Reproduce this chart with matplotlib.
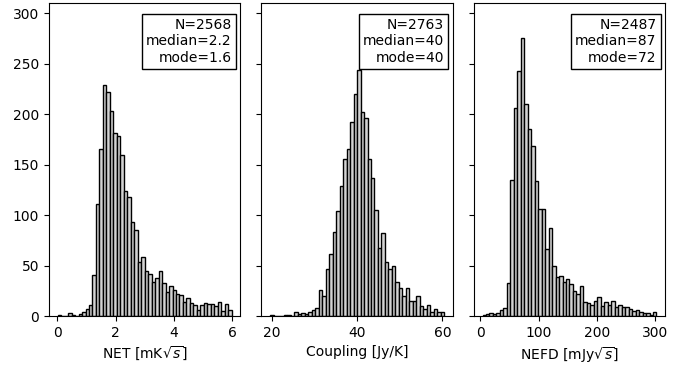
import matplotlib
matplotlib.use('Agg')
import matplotlib.pyplot as plt
import numpy as np

# bin counts (50 bins each)
net_counts = [1, 0, 0, 3, 1, 0, 2, 4, 7, 11,
              41, 111, 166, 229, 222, 203, 181, 178, 160, 124,
              118, 93, 85, 54, 59, 45, 42, 34, 38, 45,
              33, 24, 30, 26, 22, 21, 14, 18, 13, 11,
              6, 11, 13, 12, 12, 10, 14, 5, 12, 6]
net_range = (0.01, 5.98)

coupling_counts = [1, 0, 0, 0, 1, 1, 0, 4, 2, 3,
                   2, 4, 6, 8, 26, 20, 47, 62, 83, 104,
                   129, 156, 166, 192, 220, 244, 202, 196, 156, 137,
                   105, 67, 82, 54, 47, 50, 34, 28, 20, 28,
                   15, 15, 20, 10, 7, 11, 4, 7, 4, 4]
coupling_range = (19.6, 60.4)

nefd_counts = [1, 2, 3, 2, 3, 6, 8, 33, 135, 206,
               243, 276, 210, 185, 169, 134, 106, 106, 66, 87,
               50, 39, 40, 34, 37, 32, 25, 22, 30, 14,
               13, 11, 15, 19, 10, 14, 11, 15, 9, 11,
               9, 9, 7, 5, 6, 4, 3, 3, 1, 4]
nefd_range = (3.6, 302.2)

xlabels = [r'NET [mK$\sqrt{s}$]', 'Coupling [Jy/K]', r'NEFD [mJy$\sqrt{s}$]']
xticks = [[0, 2, 4, 6], [20, 40, 60], [0, 100, 200, 300]]
stats = ['N=2568\nmedian=2.2\nmode=1.6',
         'N=2763\nmedian=40\nmode=40',
         'N=2487\nmedian=87\nmode=72']

fig, axes = plt.subplots(1, 3, figsize=(6.9, 3.65), dpi=100, sharey=True)
fig.subplots_adjust(left=0.071, right=0.964, bottom=0.134, top=0.991, wspace=0.11)

data = [(net_counts, net_range), (coupling_counts, coupling_range), (nefd_counts, nefd_range)]
for i, ax in enumerate(axes):
    counts, rng = data[i]
    edges = np.linspace(rng[0], rng[1], len(counts) + 1)
    ax.hist(edges[:-1], bins=edges, weights=counts,
            color='lightgrey', edgecolor='black', linewidth=1)
    ax.set_xticks(xticks[i])
    ax.set_xlabel(xlabels[i])
    ax.text(0.955, 0.952, stats[i], transform=ax.transAxes,
            ha='right', va='top', multialignment='right', fontsize=10,
            bbox=dict(boxstyle='square,pad=0.3', fc='white', ec='black', lw=1))

axes[0].set_ylim(0, 310)
axes[0].set_yticks(range(0, 301, 50))

plt.savefig('out.png')
